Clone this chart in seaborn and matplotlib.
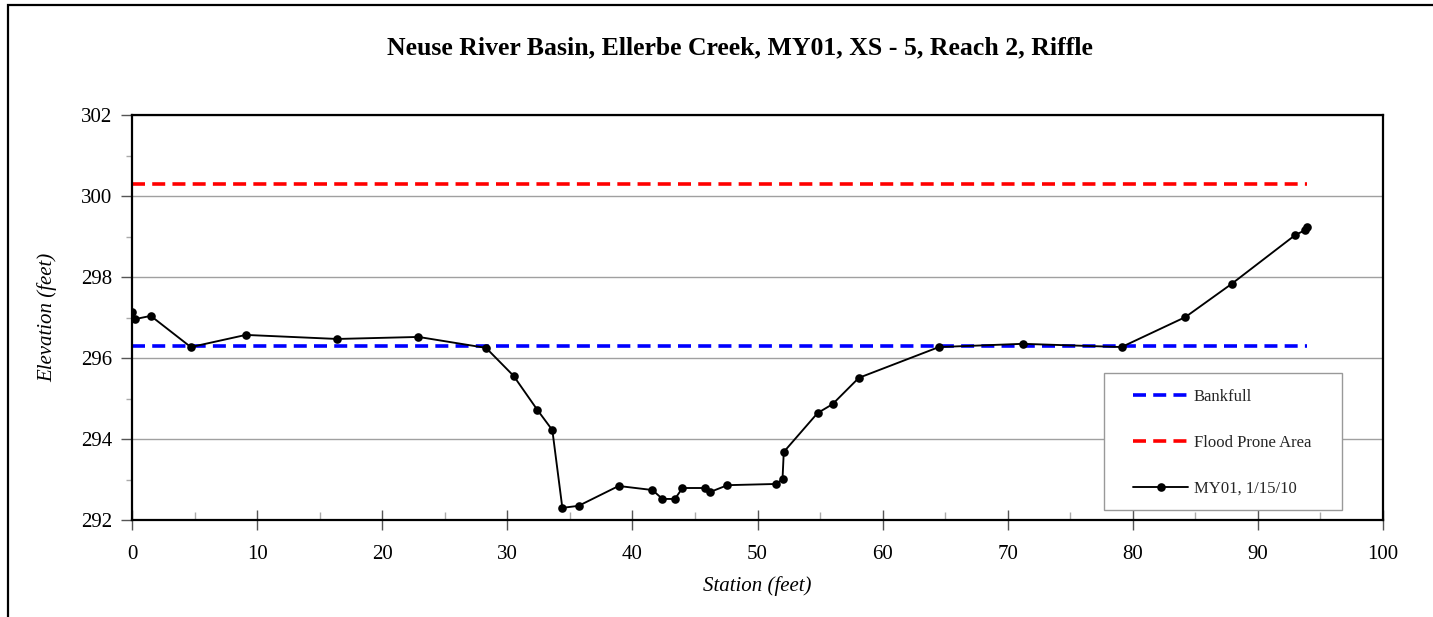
import matplotlib
matplotlib.use("Agg")
import matplotlib.pyplot as plt
import seaborn as sns
import pandas as pd
from matplotlib.patches import Rectangle
from matplotlib.ticker import MultipleLocator

# ---- data ----
station = [0.0, 0.24, 1.5, 4.7, 9.1, 16.4, 22.9, 28.3, 30.5, 32.4, 33.6, 34.4, 35.7,
           38.9, 41.6, 42.4, 43.4, 44.0, 45.8, 46.2, 47.6, 51.5, 52.0, 52.1, 54.8,
           56.0, 58.1, 64.5, 71.2, 79.1, 84.2, 87.9, 93.0, 93.8, 93.9]
elevation = [297.14, 296.96, 297.04, 296.27, 296.57, 296.47, 296.52, 296.25, 295.56,
             294.72, 294.22, 292.30, 292.35, 292.84, 292.74, 292.52, 292.52, 292.79,
             292.79, 292.69, 292.86, 292.89, 293.01, 293.68, 294.64, 294.86, 295.51,
             296.27, 296.35, 296.27, 297.01, 297.83, 299.04, 299.16, 299.23]
bankfull_x = [0.0, 93.9]
bankfull_y = [296.3, 296.3]
flood_x = [0.0, 93.9]
flood_y = [300.3, 300.3]
x_ticks = [0, 10, 20, 30, 40, 50, 60, 70, 80, 90, 100]
y_ticks = [292, 294, 296, 298, 300, 302]

title = "Neuse River Basin, Ellerbe Creek, MY01, XS - 5, Reach 2, Riffle"
labels = ["Bankfull", "Flood Prone Area", "MY01, 1/15/10"]

sns.set_theme(style="white")
plt.rcParams['font.family'] = ['Liberation Serif', 'DejaVu Serif']

W, H = 1433, 617
fig = plt.figure(figsize=(W / 100, H / 100), dpi=100)
ax = fig.add_axes([132/W, 1-520/H, (1383-132)/W, (520-115)/H])

df_bank = pd.DataFrame({"x": bankfull_x, "y": bankfull_y})
df_flood = pd.DataFrame({"x": flood_x, "y": flood_y})
df_xs = pd.DataFrame({"x": station, "y": elevation})

sns.lineplot(data=df_bank, x="x", y="y", ax=ax, color="#0000FF", lw=2.6,
             label=labels[0], estimator=None, sort=False)
sns.lineplot(data=df_flood, x="x", y="y", ax=ax, color="#FF0000", lw=2.6,
             label=labels[1], estimator=None, sort=False)
sns.lineplot(data=df_xs, x="x", y="y", ax=ax, color="black", lw=1.35,
             marker="o", markersize=6.2, markeredgewidth=0,
             label=labels[2], estimator=None, sort=False)
for ln in ax.lines[:2]:
    ln.set_dashes((3.6, 2.0))

ax.set_xlim(0, 100)
ax.set_ylim(292, 302)
ax.set_xticks(x_ticks)
ax.set_yticks(y_ticks)
ax.xaxis.set_minor_locator(MultipleLocator(5))
ax.yaxis.set_minor_locator(MultipleLocator(1))
ax.tick_params(axis="x", which="major", direction="inout", length=14, width=1,
               color="#555555", labelsize=15, pad=11, bottom=True)
ax.tick_params(axis="x", which="minor", direction="in", length=6, width=1,
               color="#aaaaaa", bottom=True)
ax.tick_params(axis="y", which="major", direction="out", length=8, width=1,
               color="#555555", labelsize=15, pad=6, left=True)
ax.tick_params(axis="y", which="minor", direction="out", length=4, width=1,
               color="#aaaaaa", left=True)
for lbl in ax.get_xticklabels() + ax.get_yticklabels():
    lbl.set_color("black")

ax.grid(axis="y", which="major", color="#a0a0a0", lw=1.0)
ax.grid(axis="x", visible=False)
for s in ax.spines.values():
    s.set_visible(True)
    s.set_color("black")
    s.set_linewidth(1.6)

ax.set_xlabel("Station (feet)", fontstyle="italic", fontsize=15, color="black", labelpad=9)
ax.set_ylabel("Elevation (feet)", fontstyle="italic", fontsize=15, color="black", labelpad=17)
fig.text(740 / W, 1 - 48/H, title, ha="center", va="center",
         fontsize=18.5, fontweight="bold", color="black")

# legend frame (drawn separately, square corners, grey)
ax.add_patch(Rectangle(((1104-132)/1251, (520-510)/405), 238/1251, 137/405,
                       transform=ax.transAxes, facecolor="white", edgecolor="#999999",
                       lw=1.0, zorder=5))
leg = ax.legend(loc="upper left",
                bbox_to_anchor=((1133-132)/1251, (520-389)/405),
                frameon=False, fontsize=12, handlelength=3.3, labelspacing=1.8,
                borderpad=0, handletextpad=0.35, borderaxespad=0)
leg.set_zorder(6)

fig.patches.append(Rectangle((8/W, -0.05), 1.2, 1 - 5/H + 0.05,
                             transform=fig.transFigure, fill=False,
                             edgecolor="black", lw=1.6, zorder=10))

fig.savefig("out.png", dpi=100)
